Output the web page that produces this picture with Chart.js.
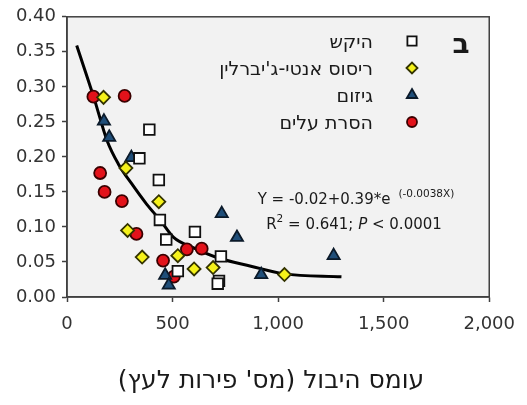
<!DOCTYPE html>
<html>
<head>
<meta charset="utf-8">
<script src="https://cdn.jsdelivr.net/npm/chart.js@4.4.1/dist/chart.umd.min.js"></script>
<style>
  html, body { margin: 0; padding: 0; background: #fff; }
  #wrap { position: relative; width: 527px; height: 405px; }
  #c { display: block; }
  .lbl { position: absolute; font-family: 'DejaVu Sans', sans-serif; color: #1a1a1a; white-space: nowrap; direction: rtl; }
</style>
</head>
<body>
<div id="wrap">
  <canvas id="c" width="527" height="405"></canvas>
</div>
<script>
// axis ticks
const xTicks = [0, 500, 1000, 1500, 2000];
const yTicks = [0, 0.05, 0.1, 0.15, 0.2, 0.25, 0.3, 0.35, 0.4];

const seriesNames = ["היקש", "ריסוס אנטי-ג'יברלין", "גיזום", "הסרת עלים"];
const xTitle = "עומס היבול (מס' פירות לעץ)";
const panelLabel = "ב";

// היקש (squares)
const thinX = [390, 343, 435, 440, 606, 470, 729, 525, 720, 714];
const thinY = [0.239, 0.198, 0.167, 0.110, 0.093, 0.082, 0.058, 0.037, 0.023, 0.019];
// ריסוס (diamonds)
const sprayX = [173, 279, 435, 287, 356, 525, 602, 692, 1030];
const sprayY = [0.285, 0.184, 0.136, 0.095, 0.057, 0.059, 0.040, 0.042, 0.032];
// גיזום (triangles)
const pruneX = [175, 200, 305, 733, 805, 465, 482, 920, 1263];
const pruneY = [0.251, 0.228, 0.199, 0.119, 0.085, 0.031, 0.017, 0.032, 0.059];
// הסרת עלים (circles)
const leafX = [125, 273, 157, 178, 260, 329, 568, 638, 455, 506];
const leafY = [0.286, 0.287, 0.177, 0.150, 0.137, 0.090, 0.068, 0.069, 0.052, 0.029];

// fitted curve
const fitX = [46, 127, 190, 243, 308, 376, 443, 505, 600, 713, 871, 1029, 1300];
const fitY = [0.359, 0.285, 0.223, 0.190, 0.161, 0.133, 0.109, 0.085, 0.070, 0.056, 0.044, 0.033, 0.029];

const pts = (xs, ys) => xs.map((x, i) => ({ x, y: ys[i] }));

const styles = [
  { pointStyle: 'rect', radius: 7.5, bg: '#ffffff', border: '#111111' },
  { pointStyle: 'rectRot', radius: 6.5, bg: '#f5f21a', border: '#333300' },
  { pointStyle: 'triangle', radius: 7, bg: '#1f4e79', border: '#0b1a2a' },
  { pointStyle: 'circle', radius: 6, bg: '#e3121a', border: '#3a0000' },
];

const seriesData = [pts(thinX, thinY), pts(sprayX, sprayY), pts(pruneX, pruneY), pts(leafX, leafY)];

const datasets = seriesData.map((data, i) => ({
  label: seriesNames[i],
  data,
  pointStyle: styles[i].pointStyle,
  pointRadius: styles[i].radius,
  pointBackgroundColor: styles[i].bg,
  pointBorderColor: styles[i].border,
  pointBorderWidth: 1.8,
}));
datasets.push({
  type: 'line',
  label: 'fit',
  data: pts(fitX, fitY),
  borderColor: '#000',
  borderWidth: 3,
  pointRadius: 0,
  tension: 0.4,
  cubicInterpolationMode: 'monotone',
  fill: false,
});

const FONT = "'DejaVu Sans', sans-serif";
const legendRows = [41, 68, 95, 122];

// Hebrew labels as HTML text, laid out right-to-left by the browser
const wrap = document.getElementById('wrap');
function addLabel(text, css) {
  const d = document.createElement('div');
  d.className = 'lbl';
  d.setAttribute('dir', 'rtl');
  d.setAttribute('lang', 'he');
  d.textContent = text;
  Object.assign(d.style, css);
  wrap.append(d);
}
seriesNames.forEach((name, i) => {
  addLabel(name, { right: (527 - 373) + 'px', top: (legendRows[i] - 11) + 'px', fontSize: '19px', lineHeight: '22px' });
});
addLabel(panelLabel, { left: '441px', width: '40px', textAlign: 'center', top: (44 - 17) + 'px', fontSize: '28px', lineHeight: '34px', fontWeight: 'bold' });
addLabel(xTitle, { left: '71px', width: '400px', textAlign: 'center', top: (380 - 15) + 'px', fontSize: '25px', lineHeight: '30px' });

const decor = {
  id: 'decor',
  beforeDraw(chart) {
    const { ctx, chartArea: a } = chart;
    ctx.save();
    ctx.fillStyle = '#f2f2f2';
    ctx.fillRect(a.left, a.top, a.right - a.left, a.bottom - a.top);
    ctx.restore();
  },
  afterDraw(chart) {
    const { ctx, chartArea: a } = chart;
    ctx.save();
    ctx.strokeStyle = '#404040';
    ctx.lineWidth = 1.5;
    ctx.strokeRect(a.left, a.top, a.right - a.left, a.bottom - a.top);

    // legend markers
    styles.forEach((s, i) => {
      ctx.fillStyle = s.bg;
      ctx.strokeStyle = s.border;
      ctx.lineWidth = 1.8;
      Chart.helpers.drawPoint(ctx, { pointStyle: s.pointStyle, radius: s.radius - 1, rotation: 0, borderWidth: 1.8 }, 412, legendRows[i]);
    });

    // equation
    ctx.fillStyle = '#1a1a1a';
    ctx.textAlign = 'left';
    ctx.textBaseline = 'alphabetic';
    const big = `15px ${FONT}`;
    const small = `10.5px ${FONT}`;
    const line1 = 'Y = -0.02+0.39*e';
    const sup1 = '(-0.0038X)';
    ctx.font = big;
    const w1 = ctx.measureText(line1).width;
    ctx.font = small;
    const ws1 = ctx.measureText(sup1).width;
    let x = 356 - (w1 + 8 + ws1) / 2;
    ctx.font = big;
    ctx.fillText(line1, x, 204);
    ctx.font = small;
    ctx.fillText(sup1, x + w1 + 8, 197);

    const parts = [
      ['R', big, 0],
      ['2', small, -7],
      [' = 0.641; ', big, 0],
      ['P', `italic 15px ${FONT}`, 0],
      [' < 0.0001', big, 0],
    ];
    let total = 0;
    parts.forEach(([t, f]) => { ctx.font = f; total += ctx.measureText(t).width; });
    x = 354 - total / 2;
    parts.forEach(([t, f, dy]) => {
      ctx.font = f;
      ctx.fillText(t, x, 229 + dy);
      x += ctx.measureText(t).width;
    });
    ctx.restore();
  },
};

new Chart(document.getElementById('c'), {
  type: 'scatter',
  data: { datasets },
  options: {
    responsive: false,
    animation: false,
    layout: { padding: { left: 0, top: 14, right: 37, bottom: 0 } },
    plugins: { legend: { display: false }, tooltip: { enabled: false } },
    scales: {
      x: {
        type: 'linear',
        min: xTicks[0],
        max: xTicks[xTicks.length - 1],
        afterFit: (s) => { s.height = 108; },
        afterBuildTicks: (s) => { s.ticks = xTicks.map((v) => ({ value: v })); },
        ticks: {
          padding: 12,
          color: '#333',
          font: { family: FONT, size: 18 },
          callback: (v) => Number(v).toLocaleString('en-US'),
          maxRotation: 0,
        },
        grid: { drawOnChartArea: false, drawTicks: true, tickLength: 5, tickColor: '#404040', tickWidth: 1.5 },
        border: { color: '#404040', width: 1.5 },
      },
      y: {
        type: 'linear',
        min: yTicks[0],
        max: yTicks[yTicks.length - 1],
        afterFit: (s) => { s.width = 67; },
        afterBuildTicks: (s) => { s.ticks = yTicks.map((v) => ({ value: v })); },
        ticks: {
          padding: 6,
          color: '#333',
          font: { family: FONT, size: 18 },
          callback: (v) => Number(v).toFixed(2),
        },
        grid: { drawOnChartArea: false, drawTicks: true, tickLength: 5, tickColor: '#404040', tickWidth: 1.5 },
        border: { color: '#404040', width: 1.5 },
      },
    },
  },
  plugins: [decor],
});
</script>
</body>
</html>
